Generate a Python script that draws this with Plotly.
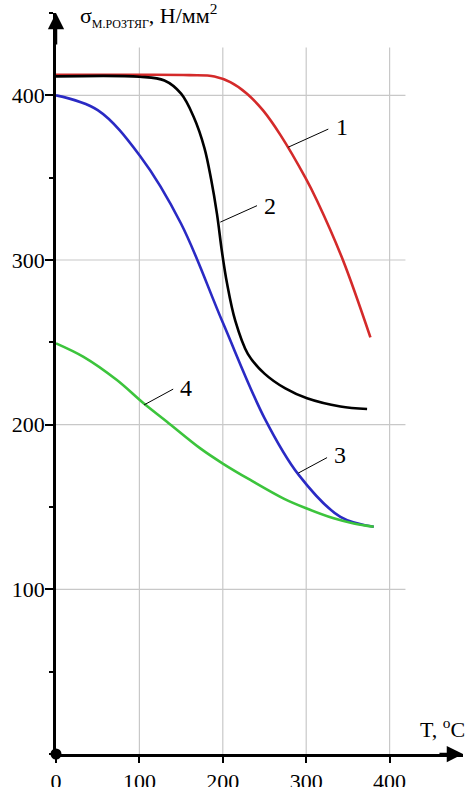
import plotly.graph_objects as go

# ---- data ----
t1 = [0, 100, 160, 190, 209, 229, 248, 269, 299, 313, 344, 377]
s1 = [412.5, 412.5, 412.3, 411.5, 408, 401, 391, 376, 350, 336, 300, 253]

t2 = [0, 100, 130, 150, 165, 178, 186, 193, 199, 205, 215, 230, 250, 275, 301, 341, 373]
s2 = [411.5, 411.3, 409, 401, 387, 368, 349, 328, 305, 286, 263, 243, 231, 222, 216, 211, 209.5]

t3 = [0, 50, 101, 150, 200, 250, 291, 341, 381]
s3 = [400, 391, 363, 322, 262, 204, 169.5, 144, 138]

t4 = [0, 33, 73, 105, 133, 173, 200, 233, 273, 300, 333, 357, 381]
s4 = [249.4, 241.2, 227.1, 213, 201.8, 185.6, 176.4, 166.4, 155.1, 149.2, 143.1, 140, 138]

series_names = ["1", "2", "3", "4"]
series_colors = ["#d42a2a", "#000000", "#2a2ac4", "#3cc43c"]

# leader lines: (curve point x, y, label end x, y), label centre x, y
leaders = [
    (278.5, 368.5, 326.5, 379.5, 343, 381),
    (197, 323, 241, 333, 256, 333),
    (290.5, 170.6, 325, 180, 341, 181.5),
    (105.6, 212, 140.5, 221.6, 156, 222.5),
]

x_ticks = [0, 100, 200, 300, 400]
y_ticks = [100, 200, 300, 400]
grid_x = [100, 200, 300, 400]
grid_y = [100, 200, 300, 400]

XMAX, YMAX = 488, 450
GRID_TOP, GRID_RIGHT = 429, 419

fig = go.Figure()

for xs, ys, name, col in zip([t1, t2, t3, t4], [s1, s2, s3, s4], series_names, series_colors):
    fig.add_trace(go.Scatter(x=xs, y=ys, mode="lines", name=name,
                             line=dict(color=col, width=2.6, shape="spline", smoothing=1.0),
                             hoverinfo="skip"))

# origin dot
fig.add_trace(go.Scatter(x=[0], y=[0], mode="markers", marker=dict(color="black", size=11),
                         cliponaxis=False, hoverinfo="skip"))

shapes = []
for gx in grid_x:
    shapes.append(dict(type="line", xref="x", yref="y", x0=gx, x1=gx, y0=0, y1=GRID_TOP,
                       line=dict(color="#c8c8c8", width=1.2), layer="below"))
for gy in grid_y:
    shapes.append(dict(type="line", xref="x", yref="y", x0=0, x1=GRID_RIGHT, y0=gy, y1=gy,
                       line=dict(color="#c8c8c8", width=1.2), layer="below"))
for (cx, cy, lx, ly, tx, ty) in leaders:
    shapes.append(dict(type="line", xref="x", yref="y", x0=cx, y0=cy, x1=lx, y1=ly,
                       line=dict(color="black", width=1)))

serif = "Liberation Serif, Times New Roman, serif"
annotations = []
for (cx, cy, lx, ly, tx, ty), name in zip(leaders, series_names):
    annotations.append(dict(x=tx, y=ty, xref="x", yref="y", text=name, showarrow=False,
                            font=dict(family=serif, size=24, color="black")))

# axis arrows
annotations.append(dict(x=XMAX, y=0, ax=XMAX - 30, ay=0, xref="x", yref="y", axref="x", ayref="y",
                        text="", showarrow=True, arrowhead=2, arrowsize=1.3, arrowwidth=2.5,
                        arrowcolor="black"))
annotations.append(dict(x=0, y=YMAX, ax=0, ay=YMAX - 20, xref="x", yref="y", axref="x", ayref="y",
                        text="", showarrow=True, arrowhead=2, arrowsize=1.3, arrowwidth=2.5,
                        arrowcolor="black"))

# axis titles
annotations.append(dict(x=26, y=448.5, xref="x", yref="y", xanchor="left", yanchor="middle",
                        text="σ<sub><span style='font-size:12px'>М.РОЗТЯГ</span></sub>, Н/мм<sup>2</sup>",
                        showarrow=False,
                        font=dict(family=serif, size=22, color="black")))
annotations.append(dict(x=434, y=16, xref="x", yref="y", xanchor="left", yanchor="middle",
                        text="T, <sup>o</sup>C", showarrow=False,
                        font=dict(family=serif, size=22, color="black")))

fig.update_layout(
    width=472, height=787,
    margin=dict(l=56, r=9, t=13, b=33, autoexpand=False),
    paper_bgcolor="white", plot_bgcolor="white",
    showlegend=False,
    shapes=shapes, annotations=annotations,
    font=dict(family=serif, size=22, color="black"),
)
fig.update_xaxes(range=[0, XMAX], showgrid=False, zeroline=False, automargin=False,
                 showline=True, linecolor="black", linewidth=2.5,
                 tickmode="array", tickvals=x_ticks, ticktext=[str(v) for v in x_ticks],
                 ticks="outside", ticklen=6, tickwidth=2, tickcolor="black",
                 tickfont=dict(family=serif, size=22, color="black"))
fig.update_yaxes(range=[0, YMAX], showgrid=False, zeroline=False, automargin=False,
                 showline=True, linecolor="black", linewidth=2.5,
                 tickmode="array", tickvals=y_ticks, ticktext=[str(v) for v in y_ticks],
                 ticks="outside", ticklen=8, tickwidth=2, tickcolor="black",
                 ticklabelstandoff=-4,
                 minor=dict(dtick=50, tick0=0, ticks="outside", ticklen=4, tickwidth=2,
                            tickcolor="black", showgrid=False),
                 tickfont=dict(family=serif, size=22, color="black"))

fig.write_html("out.html", config={"displayModeBar": False},
               post_script="document.body.style.margin='0';")
